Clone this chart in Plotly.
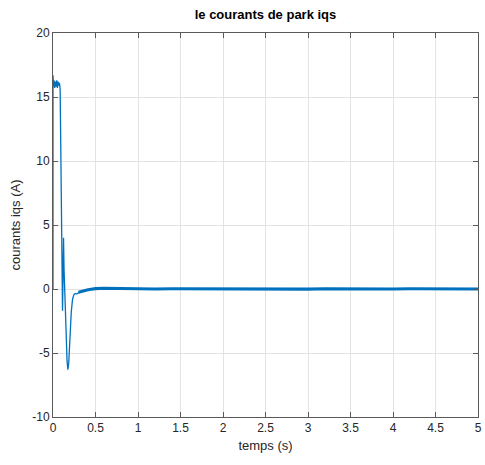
import plotly.graph_objects as go

# Start-up transient of the q-axis current (time in s, current in A)
t_transient = [0.0, 0.0, 0.005, 0.012, 0.02, 0.028, 0.036, 0.044, 0.052, 0.06, 0.068, 0.076,
               0.084, 0.09, 0.1, 0.112, 0.118, 0.124, 0.13, 0.136, 0.145, 0.155, 0.165,
               0.175, 0.185, 0.2, 0.215, 0.23, 0.245, 0.26, 0.28, 0.3, 0.33, 0.36, 0.4, 0.45]
iq_transient = [0.0, 16.7, 15.8, 16.3, 15.7, 16.2, 15.8, 16.3, 15.7, 16.2, 15.9, 16.1,
                15.6, 12.0, 4.0, -1.7, 1.0, 4.0, 1.5, 0.6, -1.0, -3.5, -5.6,
                -6.3, -5.8, -3.6, -1.8, -0.8, -0.45, -0.35, -0.4, -0.3, -0.2, -0.12, -0.05, 0.0]

# Steady-state region (noisy band around 0 A)
t_steady = [0.3, 0.35, 0.4, 0.45, 0.5, 0.6, 0.7, 0.8, 0.9, 1.0, 1.2, 1.4, 1.6, 1.8, 2.0,
            2.2, 2.4, 2.6, 2.8, 3.0, 3.2, 3.4, 3.6, 3.8, 4.0, 4.2, 4.4, 4.6, 4.8, 5.0]
iq_steady = [-0.25, -0.15, -0.08, -0.02, 0.03, 0.06, 0.04, 0.05, 0.02, 0.03, 0.0, 0.02,
             0.01, -0.01, 0.0, 0.02, -0.01, 0.01, 0.0, -0.01, 0.02, 0.0, 0.01, -0.01,
             0.0, 0.02, 0.0, -0.01, 0.01, 0.0]

line_color = "#0072BD"
axis_color = "#5a5a5a"
text_color = "#262626"
grid_color = "#e3e3e3"
font_family = "Liberation Sans, Arial, sans-serif"

fig = go.Figure()
fig.add_trace(go.Scatter(x=t_transient, y=iq_transient, mode="lines",
                         line=dict(color=line_color, width=1.3), showlegend=False))
fig.add_trace(go.Scatter(x=t_steady, y=iq_steady, mode="lines",
                         line=dict(color=line_color, width=3.2), showlegend=False))

axis_common = dict(
    showline=True, linecolor=axis_color, linewidth=1, mirror="ticks",
    ticks="inside", ticklen=5, tickcolor=axis_color,
    showgrid=True, gridcolor=grid_color, gridwidth=1,
    zeroline=False, ticklabeloverflow="allow",
    tickfont=dict(family=font_family, size=12, color=text_color),
)

fig.update_layout(
    width=485, height=465,
    margin=dict(l=53, r=3, t=33, b=48),
    paper_bgcolor="white", plot_bgcolor="white",
    title=dict(text="<b>le courants de park iqs</b>", x=0.5, xanchor="center",
               xref="paper", y=0.968, yanchor="middle",
               font=dict(family=font_family, size=13, color="black")),
    xaxis=dict(range=[0, 5], tickvals=[0, 0.5, 1, 1.5, 2, 2.5, 3, 3.5, 4, 4.5, 5],
               ticktext=["0", "0.5", "1", "1.5", "2", "2.5", "3", "3.5", "4", "4.5", "5"],
               title=dict(text="temps (s)", standoff=6,
                          font=dict(family=font_family, size=13, color=text_color)),
               **axis_common),
    yaxis=dict(range=[-10, 20], tickvals=[-10, -5, 0, 5, 10, 15, 20],
               ticktext=["-10", "-5", "0", "5", "10", "15", "20"],
               title=dict(text="courants iqs (A)", standoff=8,
                          font=dict(family=font_family, size=13, color=text_color)),
               **axis_common),
)

fig.write_html("out.html")
